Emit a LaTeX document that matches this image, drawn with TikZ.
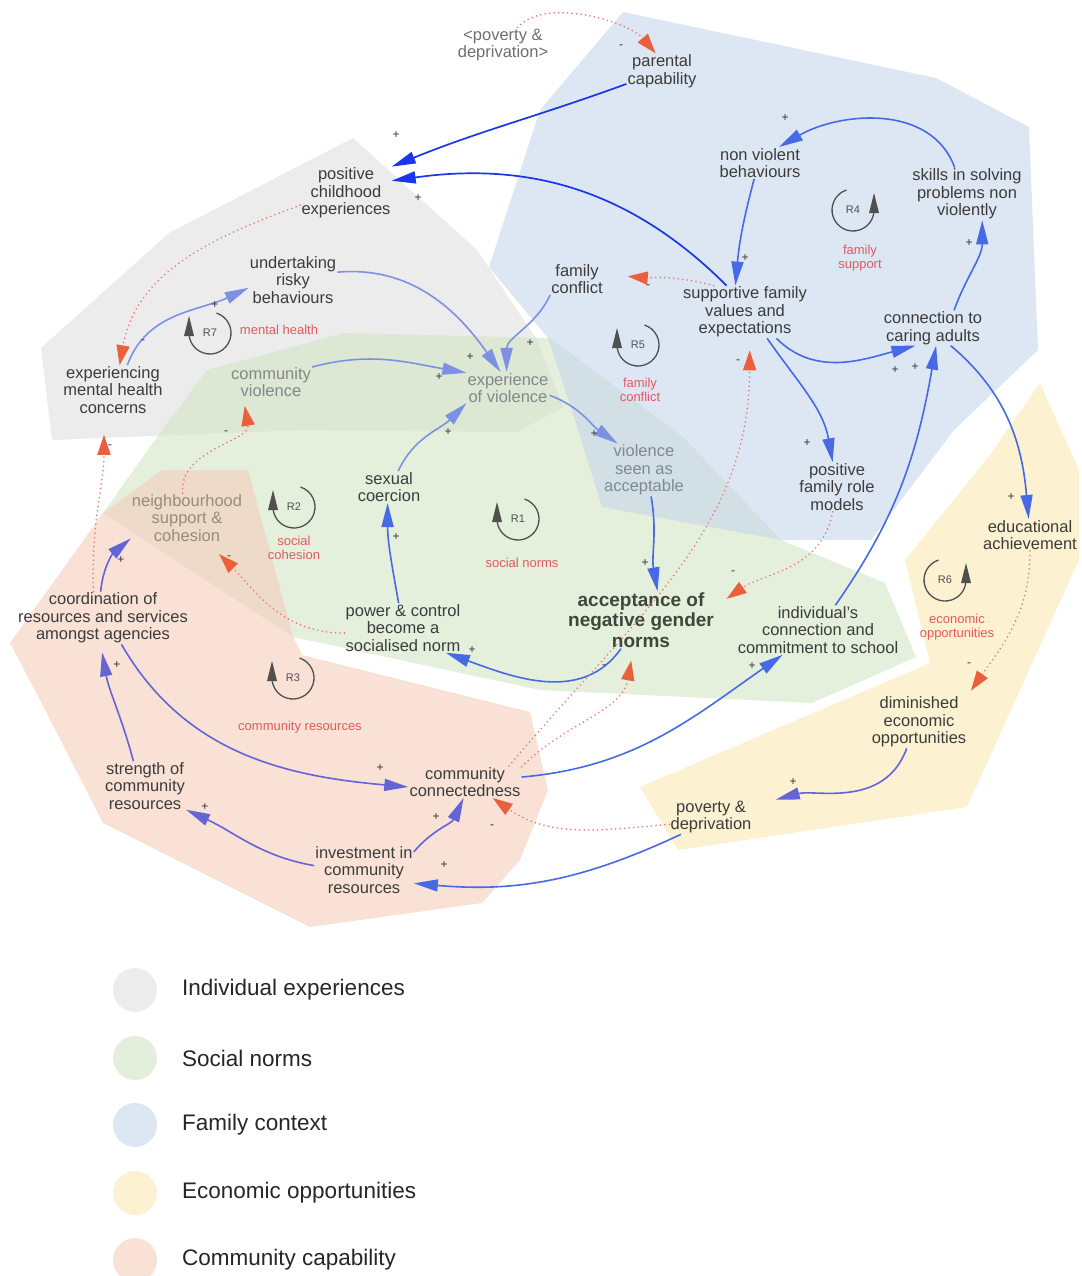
\documentclass[tikz,border=0pt]{standalone}
\usepackage{fontspec}
\setmainfont{Liberation Sans}
\usetikzlibrary{arrows.meta}
\definecolor{labc}{RGB}{60,60,60}
\definecolor{gtext}{RGB}{135,135,135}
\definecolor{nsctext}{RGB}{150,140,125}
\definecolor{vsatext}{RGB}{128,136,150}
\definecolor{povc}{RGB}{110,110,110}
\definecolor{angc}{RGB}{60,72,60}
\definecolor{bdark}{RGB}{25,55,230}
\definecolor{bmid}{RGB}{70,105,230}
\definecolor{blite}{RGB}{125,145,228}
\definecolor{bpurp}{RGB}{100,100,215}
\definecolor{rline}{RGB}{232,120,105}
\definecolor{rhead}{RGB}{236,95,60}
\definecolor{loopred}{RGB}{226,90,95}
\definecolor{loopc}{RGB}{80,80,80}
\definecolor{rgGrey}{RGB}{223,223,223}
\definecolor{rgGreen}{RGB}{210,228,197}
\definecolor{rgBlue}{RGB}{198,213,235}
\definecolor{rgYellow}{RGB}{250,232,177}
\definecolor{rgPink}{RGB}{245,205,187}
\definecolor{lgGrey}{RGB}{236,236,236}
\definecolor{lgGreen}{RGB}{227,239,220}
\definecolor{lgBlue}{RGB}{221,230,243}
\definecolor{lgYellow}{RGB}{252,241,208}
\definecolor{lgPink}{RGB}{249,225,214}
\tikzset{
  lbl/.style={align=center, inner sep=1pt, text=labc, font=\fontsize{16.5}{17.5}\selectfont},
  glbl/.style={lbl, text=gtext},
  sgn/.style={inner sep=0pt, text=black!80, font=\fontsize{12}{12}\selectfont},
  rlab/.style={align=center, inner sep=0pt, text=loopred, font=\fontsize{13}{13.5}\selectfont},
  looptxt/.style={inner sep=0pt, text=loopc, font=\fontsize{11}{11}\selectfont},
  loopln/.style={draw=loopc, line width=1.3pt},
  bd/.style={draw=bdark, line width=1.7pt, -{Triangle[length=24pt,width=12pt]}},
  bm/.style={draw=bmid, line width=1.6pt, -{Triangle[length=24pt,width=12pt]}},
  bli/.style={draw=blite, line width=1.6pt, -{Triangle[length=24pt,width=12pt]}},
  bp/.style={draw=bpurp, line width=1.6pt, -{Triangle[length=24pt,width=12pt]}},
  rd/.style={draw=rline, line width=1.8pt, dash pattern=on 0pt off 4.5pt, line cap=round, -{Triangle[length=20pt,width=13pt,color=rhead]}},
  region/.style={fill opacity=0.6, draw=none},
  legtxt/.style={anchor=west, inner sep=0pt, text=black!85, font=\fontsize{22.5}{24}\selectfont}
}
\newcommand{\loopLeft}[3]{%
  \node[looptxt] (#1) at (#2,#3) {#1};
  \draw[loopln] (#1.center) ++(72:21) arc[start angle=72,end angle=-180,radius=21];
  \fill[loopc] (#2-26,#3-3) -- (#2-16,#3-3) -- (#2-21,#3+17) -- cycle;}
\newcommand{\loopRight}[3]{%
  \node[looptxt] (#1) at (#2,#3) {#1};
  \draw[loopln] (#1.center) ++(108:21) arc[start angle=108,end angle=360,radius=21];
  \fill[loopc] (#2+16,#3-3) -- (#2+26,#3-3) -- (#2+21,#3+17) -- cycle;}
\begin{document}
\begin{tikzpicture}[x=1pt,y=1pt]
\useasboundingbox (0,0) rectangle (1081,-1276);
% regions
\fill[region, rgGrey] (353,-138) -- (169,-233) -- (41,-348) -- (52,-440) -- (300,-430) -- (517,-432) -- (563,-407) -- (537,-340) -- (477,-250) -- cycle;
\fill[region, rgGreen] (344,-333) -- (550,-338) -- (683,-437) -- (781,-540) -- (885,-583) -- (916,-657) -- (812,-703) -- (540,-690) -- (293,-637) -- (103,-513) -- (162,-430) -- (207,-370) -- cycle;
\fill[region, rgBlue] (623,-12) -- (936,-78) -- (1029,-127) -- (1038,-350) -- (954,-430) -- (871,-540) -- (781,-540) -- (602,-507) -- (575,-420) -- (548,-338) -- (489,-267) -- (540,-110) -- cycle;
\fill[region, rgPink] (103,-513) -- (162,-470) -- (248,-470) -- (293,-637) -- (302,-655) -- (530,-712) -- (548,-790) -- (520,-860) -- (482,-903) -- (310,-927) -- (103,-823) -- (40,-700) -- (10,-643) -- cycle;
\fill[region, rgYellow] (1040,-383) -- (1079,-470) -- (1079,-560) -- (967,-807) -- (678,-850) -- (640,-787) -- (930,-663) -- (905,-560) -- (990,-455) -- cycle;
% nodes
\node[lbl, text=povc] (pov2) at (503,-45) {<poverty \&\\deprivation>};
\node[lbl] (par) at (662,-71) {parental\\capability};
\node[lbl] (pce) at (346,-193) {positive\\childhood\\experiences};
\node[lbl] (nvb) at (760,-163) {non violent\\behaviours};
\node[lbl] (skl) at (967,-194) {skills in solving\\problems non\\violently};
\node[lbl] (fc) at (577,-279) {family\\conflict};
\node[lbl] (sfv) at (745,-312) {supportive family\\values and\\expectations};
\node[lbl] (urb) at (293,-280) {undertaking\\risky\\behaviours};
\node[lbl] (emh) at (113,-390) {experiencing\\mental health\\concerns};
\node[glbl] (cv) at (271,-382) {community\\violence};
\node[glbl] (eov) at (508,-388) {experience\\of violence};
\node[lbl] (cca) at (933,-328) {connection to\\caring adults};
\node[lbl, text=vsatext] (vsa) at (644,-470) {violence\\seen as\\acceptable};
\node[lbl] (pfr) at (837,-487) {positive\\family role\\models};
\node[lbl] (edu) at (1030,-535) {educational\\achievement};
\node[lbl, text=nsctext] (nsc) at (187,-518) {neighbourhood\\support \&\\cohesion};
\node[lbl] (sc) at (389,-487) {sexual\\coercion};
\node[lbl] (crs) at (103,-618) {coordination of\\resources and services\\amongst agencies};
\node[lbl] (pcn) at (403,-628) {power \& control\\become a\\socialised norm};
\node[lbl, text=angc, font=\fontsize{19}{20.5}\selectfont\bfseries] (ang) at (641,-620) {acceptance of\\negative gender\\norms};
\node[lbl] (ics) at (818,-630) {individual's\\connection and\\commitment to school};
\node[lbl] (dec) at (919,-722) {diminished\\economic\\opportunities};
\node[lbl] (scr) at (145,-786) {strength of\\community\\resources};
\node[lbl] (ccn) at (465,-782) {community\\connectedness};
\node[lbl] (pd) at (711,-817) {poverty \&\\deprivation};
\node[lbl] (icr) at (364,-870) {investment in\\community\\resources};
% connectors
\draw[bd] (par.200) to[out=200,in=22] (pce.north east);
\draw[bd] (sfv.125) to[out=135,in=8] (pce.15);
\draw[rd] (pov2.50) to[out=50,in=130,looseness=0.75] (par.110);
\draw[rd] (pce.195) to[out=200,in=80] (emh.75);
\draw[bli] (emh.60) to[out=70,in=205] (urb.190);
\draw[bli] (urb.10) to[out=5,in=125] (eov.115);
\draw[bli] (fc.south west) to[out=245,in=90] (eov.95);
\draw[bli] (cv.20) to[out=15,in=170] (eov.160);
\draw[bli] (sc.60) to[out=65,in=225] (eov.200);
\draw[bli] (eov.-10) to[out=-20,in=145] (vsa.135);
\draw[bm] (vsa.-75) to[out=-80,in=100] (ang.60);
\draw[bm] (ang.235) to[out=235,in=-20] (pcn.-30);
\draw[bm] (pcn.100) to[out=100,in=-90] (sc.-95);
\draw[bm] (sfv.-50) to[out=-55,in=100] (pfr.100);
\draw[bm] (sfv.-40) to[out=-45,in=195] (cca.225);
\draw[bm] (cca.40) to[out=70,in=-90] (skl.-60);
\draw[bm] (skl.115) to[out=110,in=30] (nvb.40);
\draw[bm] (nvb.-110) to[out=-105,in=85] (sfv.110);
\draw[rd, shorten >=24pt] (sfv.140) to[out=165,in=-5] (fc.10);
\draw[bm] (ics.55) to[out=55,in=-100] (cca.-80);
\draw[bm] (cca.-45) to[out=-40,in=95] (edu.95);
\draw[rd, shorten >=6pt] (edu.-90) to[out=-90,in=55] (dec.north east);
\draw[bp, shorten >=24pt] (dec.-115) to[out=-110,in=15] (pd.15);
\draw[bm] (pd.-150) to[out=-155,in=-5] (icr.-15);
\draw[rd] (pd.190) to[out=185,in=-35] (ccn.-30);
\draw[bp] (icr.20) to[out=50,in=-115] (ccn.-95);
\draw[bp] (icr.175) to[out=170,in=-25] (scr.-30);
\draw[bp, shorten >=8pt] (scr.115) to[out=105,in=-80] (crs.-95);
\draw[bp] (crs.95) to[out=85,in=220] (nsc.200);
\draw[bp] (crs.-55) to[out=-60,in=175] (ccn.185);
\draw[rd, shorten >=12pt] (ccn.15) to[out=45,in=-100] (ang.-105);
\draw[rd, shorten >=12pt] (ccn.20) to[out=50,in=-90] (sfv.-80);
\draw[bm] (ccn.5) to[out=5,in=215] (ics.215);
\draw[rd, shorten >=14pt] (pfr.-100) to[out=-100,in=35] (ang.10);
\draw[rd, shorten >=8pt] (nsc.100) to[out=95,in=-80] (cv.-150);
\draw[rd, shorten >=16pt] (pcn.185) to[out=180,in=-45] (nsc.-50);
\draw[rd, shorten >=20pt] (crs.110) to[out=92,in=-90] (emh.-110);
% polarity signs
\foreach \x/\y [count=\i] in {396/135,418/198,215/305,470/357,439/377,448/432,530/343,594/434,645/563,396/537,472/650,752/666,785/118,745/258,895/370,915/367,969/243,807/443,1011/497,793/782,444/865,436/817,205/807,117/665,121/560,380/768}
  \node[sgn] (plus\i) at (\x,-\y) {+};
\foreach \x/\y [count=\i] in {621/47,143/342,604/667,733/573,648/287,738/362,969/665,492/827,229/558,226/433,110/447}
  \node[sgn] (minus\i) at (\x,-\y) {-};
% loops
\loopLeft{R7}{210}{-333}
\loopRight{R4}{853}{-210}
\loopLeft{R5}{638}{-345}
\loopLeft{R2}{294}{-507}
\loopLeft{R1}{518}{-519}
\loopRight{R6}{945}{-580}
\loopLeft{R3}{293}{-678}
\node[rlab] (lR7) at (279,-330) {mental health};
\node[rlab] (lR4) at (860,-258) {family\\support};
\node[rlab] (lR5) at (640,-390) {family\\conflict};
\node[rlab] (lR2) at (294,-548) {social\\cohesion};
\node[rlab] (lR1) at (522,-563) {social norms};
\node[rlab] (lR6) at (957,-627) {economic\\opportunities};
\node[rlab] (lR3) at (300,-727) {community resources};
% legend
\fill[lgGrey] (135,-990) circle (22);
\fill[lgGreen] (135,-1058) circle (22);
\fill[lgBlue] (135,-1125) circle (22);
\fill[lgYellow] (135,-1193) circle (22);
\fill[lgPink] (135,-1260) circle (22);
\node[legtxt] (leg1) at (182,-990) {Individual experiences};
\node[legtxt] (leg2) at (182,-1058) {Social norms};
\node[legtxt] (leg3) at (182,-1125) {Family context};
\node[legtxt] (leg4) at (182,-1193) {Economic opportunities};
\node[legtxt] (leg5) at (182,-1260) {Community capability};
\end{tikzpicture}
\end{document}
